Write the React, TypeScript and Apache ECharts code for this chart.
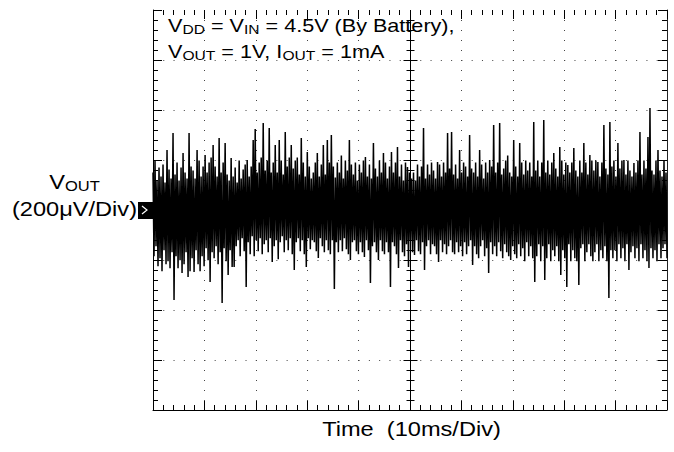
import React, { useEffect, useRef } from "react";
import * as echarts from "echarts";

const FONT = '"Liberation Sans", Arial, Helvetica, sans-serif';

// 10 ms/div x 10 div ; 200 uV/div x 8 div
const timeMin = -50;
const timeMax = 50;
const timeStep = 10;
const voltMin = -800;
const voltMax = 800;
const voltStep = 200;

const titleLine1 = "{n|V}{s|DD}{n| = V}{s|IN}{n| = 4.5V (By Battery),}";
const titleLine2 = "{n|V}{s|OUT}{n| = 1V, I}{s|OUT}{n| = 1mA}";
const yLabelLine1 = "{n|V}{s|OUT}";
const yLabelLine2 = "(200μV/Div)";
const xLabel = "Time  (10ms/Div)";

// upper excursion of each trace column (uV)
const noiseHigh = [
  150, 198, 118, 170, 134, 182, 110, 240, 162, 126,
  308, 142, 190, 118, 170, 228, 150, 126, 308, 174,
  158, 126, 240, 198, 134, 174, 220, 150, 190, 210,
  260, 174, 134, 288, 150, 190, 268, 142, 118, 208,
  134, 170, 110, 198, 126, 162, 182, 200, 134, 174,
  280, 324, 150, 190, 210, 348, 158, 198, 328, 150,
  190, 260, 150, 280, 198, 142, 312, 174, 210, 260,
  166, 198, 210, 142, 288, 190, 134, 232, 174, 126,
  150, 190, 228, 134, 182, 260, 142, 280, 190, 300,
  174, 130, 190, 150, 218, 126, 198, 158, 280, 182,
  142, 190, 118, 182, 150, 198, 212, 134, 182, 126,
  268, 166, 134, 198, 150, 228, 190, 126, 174, 232,
  150, 190, 252, 134, 182, 118, 190, 172, 150, 126,
  150, 118, 182, 134, 174, 328, 126, 182, 142, 190,
  158, 126, 192, 182, 134, 190, 150, 308, 166, 312,
  142, 182, 126, 240, 150, 190, 174, 134, 300, 166,
  150, 190, 134, 240, 182, 126, 190, 150, 200, 174,
  340, 150, 190, 348, 142, 166, 198, 218, 150, 134,
  280, 174, 134, 268, 190, 142, 198, 158, 190, 134,
  352, 158, 198, 134, 190, 360, 150, 198, 142, 190,
  228, 166, 134, 252, 198, 142, 190, 180, 150, 190,
  248, 158, 134, 198, 150, 268, 190, 142, 220, 198,
  158, 198, 192, 134, 190, 340, 166, 142, 352, 174,
  198, 134, 268, 166, 198, 200, 142, 198, 158, 134,
  188, 150, 198, 312, 142, 198, 166, 292, 408, 158,
  142, 198, 240, 158, 134, 198, 150,
];

// lower excursion of each trace column (uV)
const noiseLow = [
  -185, -145, -225, -193, -245, -161, -217, -205, -233, -169,
  -360, -185, -233, -201, -252, -217, -169, -268, -245, -193,
  -248, -161, -217, -245, -185, -225, -153, -201, -288, -169,
  -193, -145, -217, -169, -372, -153, -205, -260, -161, -228,
  -228, -145, -121, -185, -113, -165, -308, -129, -177, -105,
  -185, -121, -165, -113, -177, -137, -121, -169, -113, -208,
  -145, -121, -197, -129, -105, -169, -121, -161, -113, -177,
  -240, -129, -113, -165, -121, -177, -228, -113, -157, -121,
  -129, -165, -192, -113, -145, -169, -121, -161, -177, -121,
  -316, -129, -169, -121, -165, -113, -157, -177, -200, -129,
  -121, -165, -177, -129, -169, -188, -121, -161, -292, -145,
  -129, -169, -200, -121, -165, -177, -129, -169, -308, -129,
  -145, -177, -232, -121, -169, -185, -137, -228, -121, -169,
  -180, -121, -165, -177, -129, -240, -145, -121, -177, -137,
  -145, -177, -208, -121, -169, -137, -177, -145, -121, -169,
  -177, -129, -169, -145, -185, -129, -177, -145, -121, -220,
  -145, -177, -193, -145, -121, -185, -153, -252, -129, -177,
  -145, -185, -129, -165, -193, -137, -169, -185, -200, -145,
  -177, -193, -137, -185, -153, -205, -129, -185, -145, -193,
  -288, -185, -137, -205, -145, -280, -193, -137, -205, -161,
  -185, -145, -205, -260, -161, -193, -308, -137, -205, -161,
  -193, -205, -300, -153, -137, -205, -169, -137, -185, -205,
  -169, -137, -205, -161, -193, -145, -205, -352, -161, -193,
  -161, -205, -137, -193, -153, -205, -137, -240, -169, -145,
  -193, -153, -205, -137, -193, -161, -205, -232, -153, -193,
  -161, -205, -137, -193, -153, -137, -193,
];

function buildTrace(): [number, number][] {
  const n = noiseHigh.length * 2;
  const span = timeMax - timeMin;
  const out: [number, number][] = [];
  for (let i = 0; i < noiseHigh.length; i++) {
    out.push([timeMin + (2 * i * span) / (n - 1), noiseHigh[i]]);
    out.push([timeMin + ((2 * i + 1) * span) / (n - 1), noiseLow[i]]);
  }
  return out;
}

const crisp = (v: number) => Math.round(v) + 0.5;

function renderCross(_params: any, api: any) {
  const children: any[] = [];
  const top = api.coord([0, voltMax]);
  const bot = api.coord([0, voltMin]);
  const lft = api.coord([timeMin, 0]);
  const rgt = api.coord([timeMax, 0]);
  const cx = crisp(top[0]);
  const cy = crisp(lft[1]);
  const ls = { stroke: "#000", lineWidth: 1 };
  children.push({ type: "line", shape: { x1: cx, y1: top[1], x2: cx, y2: bot[1] }, style: ls });
  children.push({ type: "line", shape: { x1: lft[0], y1: cy, x2: rgt[0], y2: cy }, style: ls });
  const vMinor = voltStep / 5;
  for (let v = voltMin + vMinor; v < voltMax; v += vMinor) {
    const p = api.coord([0, v]);
    const major = Math.abs(v / voltStep - Math.round(v / voltStep)) < 1e-6;
    const h = major ? 7 : 4;
    const y = crisp(p[1]);
    children.push({ type: "line", shape: { x1: cx - h, y1: y, x2: cx + h, y2: y }, style: ls });
  }
  const tMinor = timeStep / 5;
  for (let t = timeMin + tMinor; t < timeMax - 1e-9; t += tMinor) {
    const p = api.coord([t, 0]);
    const major = Math.abs(t / timeStep - Math.round(t / timeStep)) < 1e-6;
    const h = major ? 7 : 4;
    const x = crisp(p[0]);
    children.push({ type: "line", shape: { x1: x, y1: cy - h, x2: x, y2: cy + h }, style: ls });
  }
  return { type: "group", children };
}

function axisCommon(extra: any) {
  return {
    type: "value",
    axisLabel: { show: false },
    axisTick: { show: true, inside: true, length: 9, lineStyle: { color: "#000", width: 1 } },
    minorTick: { show: true, splitNumber: 5, length: 5, lineStyle: { color: "#000", width: 1 } },
    ...extra,
  };
}

export default function App() {
  const ref = useRef<HTMLDivElement>(null);
  useEffect(() => {
    if (!ref.current) return;
    const chart = echarts.init(ref.current, null, { renderer: "svg" });
    const option: any = {
      animation: false,
      grid: { left: 153, right: 7, top: 10, bottom: 42, containLabel: false },
      xAxis: [
        axisCommon({
          min: timeMin, max: timeMax, interval: timeStep, position: "bottom",
          axisLine: { show: true, onZero: false, lineStyle: { color: "#000", width: 1 } },
          splitLine: { show: true, showMinLine: false, showMaxLine: false, lineStyle: { color: "#444", width: 1, type: [1, 9] } },
        }),
        axisCommon({
          min: timeMin, max: timeMax, interval: timeStep, position: "top",
          axisLine: { show: false, onZero: false },
          splitLine: { show: false },
        }),
      ],
      yAxis: [
        axisCommon({
          min: voltMin, max: voltMax, interval: voltStep, position: "left",
          axisLine: { show: true, onZero: false, lineStyle: { color: "#000", width: 1 } },
          splitLine: { show: true, showMinLine: false, showMaxLine: false, lineStyle: { color: "#444", width: 1, type: [1, 9.28] } },
        }),
        axisCommon({
          min: voltMin, max: voltMax, interval: voltStep, position: "right",
          axisLine: { show: true, onZero: false, lineStyle: { color: "#222", width: 1 } },
          splitLine: { show: false },
        }),
      ],
      series: [
        {
          type: "line", xAxisIndex: 0, yAxisIndex: 0, data: buildTrace(),
          showSymbol: false, symbol: "none", silent: true, z: 3,
          lineStyle: { color: "#000", width: 1.5 },
        },
        {
          type: "custom", xAxisIndex: 0, yAxisIndex: 0, data: [[0, 0]],
          renderItem: renderCross, silent: true, z: 4,
        },
      ],
    };
    chart.setOption(option);

    const zero = chart.convertToPixel({ gridIndex: 0 }, [timeMin, 0]) as number[];
    const x0 = Math.round(zero[0]);
    const y0 = Math.round(zero[1]);
    const textBase = { fill: "#000", fontFamily: FONT };
    chart.setOption({
      graphic: [
        { type: "rect", shape: { x: x0 - 15, y: y0 - 8, width: 16, height: 17 }, style: { fill: "#000" }, z: 10 },
        { type: "polyline", shape: { points: [[x0 - 11, y0 - 4], [x0 - 6, y0], [x0 - 11, y0 + 4]] }, style: { stroke: "#fff", lineWidth: 1.2, fill: null }, z: 11 },
        {
          type: "text", x: 168, y: 12.8, scaleX: 1.2, z: 20,
          style: {
            ...textBase, text: titleLine1 + "\n" + titleLine2, fontSize: 18,
            align: "left", verticalAlign: "top", textAlign: "left", textVerticalAlign: "top",
            rich: {
              n: { fontSize: 18, fontFamily: FONT, lineHeight: 26, verticalAlign: "middle" },
              s: { fontSize: 13, fontFamily: FONT, lineHeight: 20, verticalAlign: "bottom", padding: [0, 0, 3, 0] },
            },
          },
        },
        {
          type: "text", x: 74.5, y: 170, scaleX: 1.18, z: 20,
          style: {
            ...textBase, text: yLabelLine1, fontSize: 20,
            align: "center", verticalAlign: "top", textAlign: "center", textVerticalAlign: "top",
            rich: {
              n: { fontSize: 20, fontFamily: FONT, lineHeight: 24, verticalAlign: "middle" },
              s: { fontSize: 14, fontFamily: FONT, lineHeight: 18, verticalAlign: "bottom", padding: [0, 0, 1, 0] },
            },
          },
        },
        {
          type: "text", x: 74.5, y: 209, scaleX: 1.18, z: 20,
          style: {
            ...textBase, text: yLabelLine2, fontSize: 20,
            align: "center", verticalAlign: "middle", textAlign: "center", textVerticalAlign: "middle",
          },
        },
        {
          type: "text", x: 411.5, y: 429, scaleX: 1.18, z: 20,
          style: {
            ...textBase, text: xLabel, fontSize: 20,
            align: "center", verticalAlign: "middle", textAlign: "center", textVerticalAlign: "middle",
          },
        },
      ],
    });
    return () => chart.dispose();
  }, []);
  return (
    <div
      ref={ref}
      style={{ position: "absolute", left: 0, top: 0, width: 674, height: 452, background: "#fff" }}
    />
  );
}
